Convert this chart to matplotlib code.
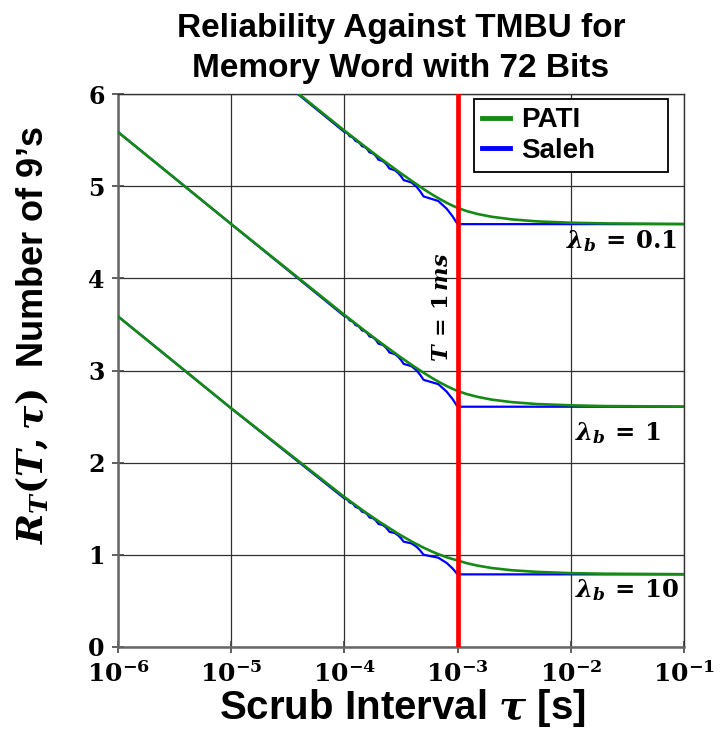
import matplotlib
matplotlib.use('Agg')
import matplotlib.pyplot as plt
from matplotlib.lines import Line2D

plt.rcParams['mathtext.fontset'] = 'custom'
plt.rcParams['mathtext.rm'] = 'DejaVu Serif:bold'
plt.rcParams['mathtext.it'] = 'DejaVu Serif:italic:bold'
plt.rcParams['mathtext.bf'] = 'DejaVu Serif:bold'

# ---------------- data ----------------
tau_pati = [1e-6, 1e-5, 1e-4, 1.5e-4, 2e-4, 3e-4, 4e-4, 5e-4, 6e-4, 7e-4, 8e-4,
            9e-4, 1e-3, 1.2e-3, 1.5e-3, 2e-3, 3e-3, 5e-3, 1e-2, 2e-2, 1e-1]
pati_01 = [7.588, 6.590, 5.603, 5.435, 5.318, 5.159, 5.051, 4.969, 4.907, 4.859, 4.820,
           4.789, 4.765, 4.730, 4.698, 4.668, 4.640, 4.618, 4.603, 4.596, 4.590]
pati_1 = [5.587, 4.589, 3.603, 3.435, 3.319, 3.161, 3.054, 2.976, 2.916, 2.869, 2.832,
          2.802, 2.778, 2.745, 2.714, 2.684, 2.657, 2.636, 2.622, 2.614, 2.609]
pati_10 = [3.587, 2.590, 1.627, 1.470, 1.365, 1.227, 1.139, 1.078, 1.033, 1.000, 0.974,
           0.955, 0.939, 0.910, 0.883, 0.857, 0.833, 0.815, 0.801, 0.795, 0.790]

tau_saleh = [1e-6, 1e-5, 1.0e-4, 1.0556e-4, 1.0889e-4, 1.1111e-4, 1.1806e-4, 1.2222e-4,
             1.25e-4, 1.3393e-4, 1.3929e-4, 1.4286e-4, 1.5119e-4, 1.5714e-4, 1.6190e-4,
             1.6667e-4, 1.7833e-4, 1.8667e-4, 1.9333e-4, 2.0e-4, 2.175e-4, 2.3e-4, 2.4e-4,
             2.5e-4, 2.7917e-4, 3.0e-4, 3.1667e-4, 3.3333e-4, 3.9167e-4, 4.3333e-4,
             4.6667e-4, 5.0e-4, 6.75e-4, 8.0e-4, 9.0e-4, 1.0e-3, 1e-1]
saleh_01 = [7.588, 6.588, 5.588, 5.577, 5.559, 5.543, 5.529, 5.509, 5.492, 5.476, 5.454,
            5.434, 5.425, 5.408, 5.390, 5.367, 5.356, 5.336, 5.314, 5.287, 5.274, 5.250,
            5.223, 5.191, 5.173, 5.141, 5.107, 5.066, 5.040, 4.994, 4.945, 4.889, 4.839,
            4.756, 4.675, 4.588, 4.588]
saleh_1 = [5.588, 4.588, 3.590, 3.579, 3.561, 3.545, 3.531, 3.512, 3.494, 3.479, 3.456,
           3.436, 3.428, 3.411, 3.393, 3.370, 3.360, 3.340, 3.318, 3.291, 3.278, 3.254,
           3.228, 3.195, 3.178, 3.147, 3.113, 3.072, 3.047, 3.002, 2.954, 2.899, 2.852,
           2.771, 2.692, 2.607, 2.607]
saleh_10 = [3.587, 2.589, 1.612, 1.601, 1.584, 1.569, 1.557, 1.538, 1.521, 1.507, 1.487,
            1.468, 1.460, 1.445, 1.428, 1.406, 1.397, 1.380, 1.360, 1.335, 1.324, 1.303,
            1.279, 1.250, 1.236, 1.209, 1.179, 1.143, 1.124, 1.088, 1.048, 1.001, 0.969,
            0.912, 0.854, 0.788, 0.788]

scrub_T = 1e-3
x_ticks = [1e-6, 1e-5, 1e-4, 1e-3, 1e-2, 1e-1]
x_tick_labels = [r'$10^{-6}$', r'$10^{-5}$', r'$10^{-4}$', r'$10^{-3}$', r'$10^{-2}$', r'$10^{-1}$']
y_ticks = [0, 1, 2, 3, 4, 5, 6]
lambda_labels = [r'$\lambda_b\,=\,0.1$', r'$\lambda_b\,=\,1$', r'$\lambda_b\,=\,10$']
lambda_label_pos = [(9.0e-3, 4.40), (1.1e-2, 2.32), (1.1e-2, 0.62)]

# ---------------- figure ----------------
fig = plt.figure(figsize=(7.25, 7.36), dpi=100)
ax = fig.add_axes([118/725, 89/736, 566/725, 553/736])
ax.set_xscale('log')

GREEN = '#158a15'
BLUE = '#0000ff'
for ys in (saleh_01, saleh_1, saleh_10):
    ax.plot(tau_saleh, ys, color=BLUE, lw=1.6, zorder=3)
for ys in (pati_01, pati_1, pati_10):
    ax.plot(tau_pati, ys, color=GREEN, lw=1.9, zorder=4)

ax.axvline(scrub_T, color='#ff0000', lw=3.4, zorder=5)

ax.set_xlim(1e-6, 1e-1)
ax.set_ylim(0, 6)
ax.set_xticks(x_ticks)
ax.set_xticklabels(x_tick_labels)
ax.minorticks_off()
ax.set_yticks(y_ticks)
ax.set_yticklabels([str(v) for v in y_ticks], fontfamily='DejaVu Serif',
                   fontweight='bold')
ax.tick_params(axis='x', labelsize=18, direction='inout', length=9, width=1.2,
               color='#444444', pad=6)
ax.tick_params(axis='y', labelsize=17, direction='inout', length=9, width=1.2,
               color='#444444', pad=5)
ax.grid(True, which='major', color='#303030', lw=0.9)
ax.set_axisbelow(True)
for s in ('left', 'bottom'):
    ax.spines[s].set_color('#666666')
    ax.spines[s].set_linewidth(1.8)
for s in ('top', 'right'):
    ax.spines[s].set_color('#333333')
    ax.spines[s].set_linewidth(1.0)

# labels on curves
for lab, (xx, yy) in zip(lambda_labels, lambda_label_pos):
    ax.text(xx, yy, lab, fontsize=17.5, ha='left', va='center', zorder=6)
ax.text(7.3e-4, 3.69, r'$T\,=\,1\,ms$', fontsize=16, rotation=90,
        ha='center', va='center', zorder=6)

# legend
handles = [Line2D([], [], color=GREEN, lw=3.5), Line2D([], [], color=BLUE, lw=3.5)]
leg = ax.legend(handles, ['PATI', 'Saleh'], loc='upper left',
                bbox_to_anchor=((474-118)/566, (647-178)/553, (668-474)/566, (178-99)/553),
                mode='expand', borderaxespad=0, fancybox=False, framealpha=1,
                edgecolor='black', handlelength=1.0, handletextpad=0.4,
                labelspacing=0.15, borderpad=0.3,
                prop={'family': 'Liberation Sans', 'weight': 'bold', 'size': 20})
leg.get_frame().set_linewidth(1.3)
leg.set_zorder(10)

# title and axis labels
fig.text(401/725, 1-29/736, 'Reliability Against TMBU for', ha='center', va='center',
         fontsize=24, fontweight='bold', family='Liberation Sans')
fig.text(401/725, 1-68/736, 'Memory Word with 72 Bits', ha='center', va='center',
         fontsize=24, fontweight='bold', family='Liberation Sans')
fig.text(402/725, 1-708/736, r'Scrub Interval $\tau$ [s]', ha='center', va='center',
         fontsize=29, fontweight='bold', family='Liberation Sans')
fig.text(33/725, 1-335/736, r"$R_T(T,\tau)$  Number of 9’s", ha='center', va='center',
         rotation=90, fontsize=26, fontweight='bold', family='Liberation Sans')

fig.savefig('out.png', dpi=100)
